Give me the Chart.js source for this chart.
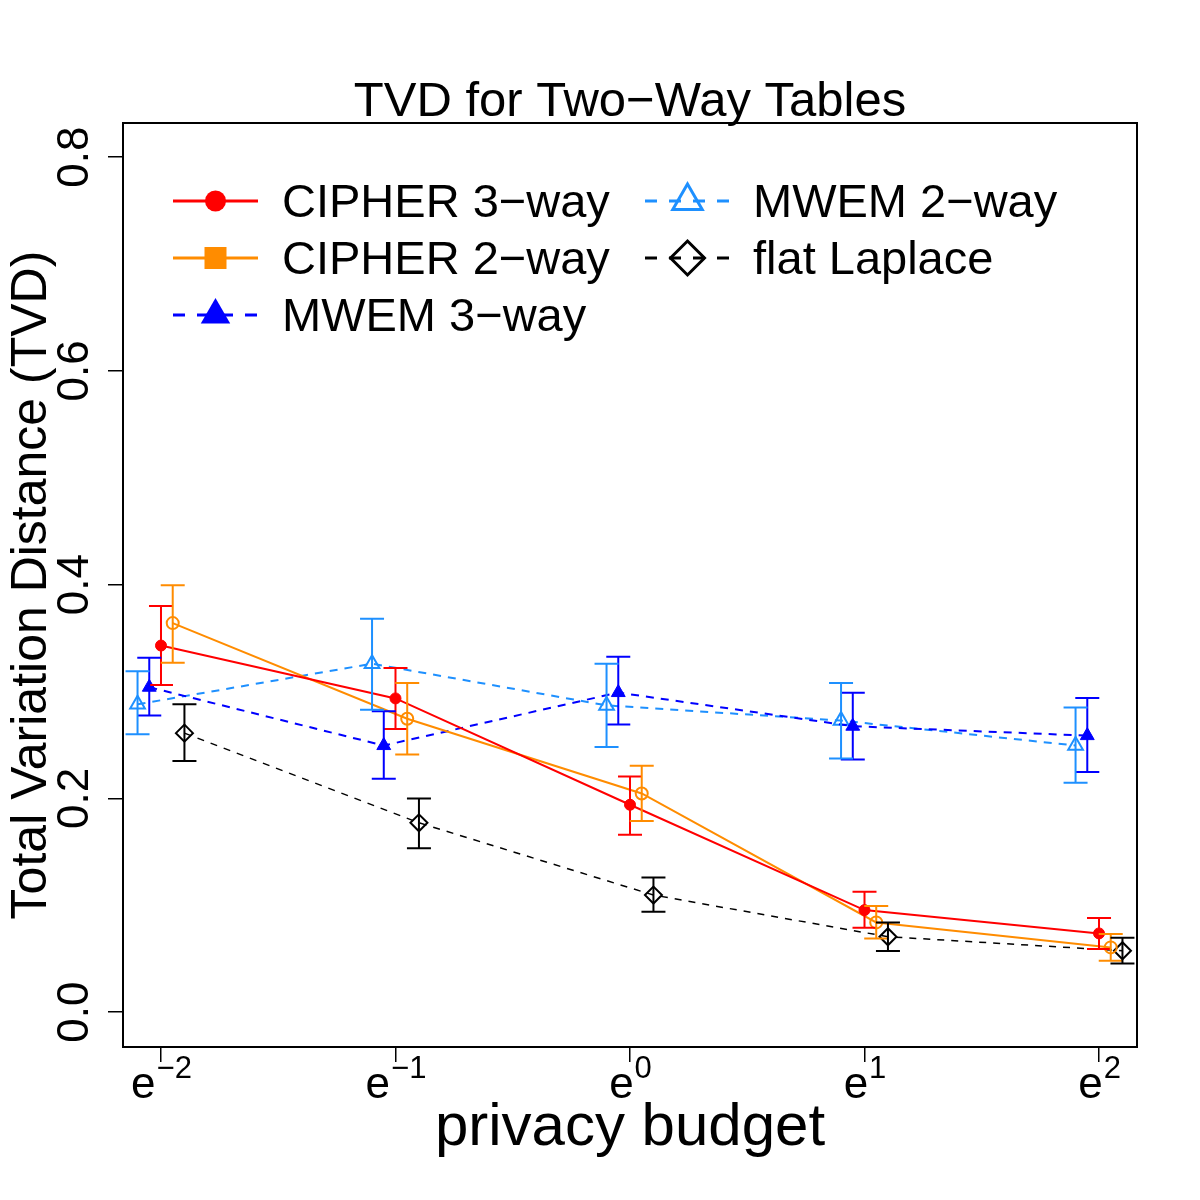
<!DOCTYPE html>
<html>
<head>
<meta charset="utf-8">
<script src="https://cdn.jsdelivr.net/npm/chart.js@4.4.1/dist/chart.umd.min.js"></script>
<style>
  html, body { margin: 0; padding: 0; background: #fff; }
  #wrap { width: 1200px; height: 1200px; }
</style>
</head>
<body>
<div id="wrap"><canvas id="chart" width="1200" height="1200"></canvas></div>
<script>
// privacy budget on a log scale: e^-2 .. e^2
const budgetLog = [-2, -1, 0, 1, 2];
const xTickExps = ['\u22122', '\u22121', '0', '1', '2'];
const yTicks = [0, 0.2, 0.4, 0.6, 0.8];
const yTickLabels = ['0.0', '0.2', '0.4', '0.6', '0.8'];

const seriesNames = ['CIPHER 3\u2212way', 'CIPHER 2\u2212way', 'MWEM 3\u2212way', 'MWEM 2\u2212way', 'flat Laplace'];
const seriesColors = ['#FF0000', '#FF8C00', '#0000FF', '#1E90FF', '#000000'];
// small horizontal dodge so the error bars don't overlap (log units)
const seriesShift = [0, 0.05, -0.05, -0.1, 0.1];

// mean TVD and error bar ends
const cipher3Mean = [0.343, 0.2935, 0.194, 0.0954, 0.0736];
const cipher3Low  = [0.306, 0.265, 0.166, 0.079, 0.059];
const cipher3High = [0.380, 0.322, 0.2205, 0.1126, 0.088];

const cipher2Mean = [0.364, 0.2745, 0.2046, 0.0839, 0.0605];
const cipher2Low  = [0.327, 0.241, 0.1787, 0.0689, 0.048];
const cipher2High = [0.3995, 0.308, 0.2305, 0.0992, 0.073];

const mwem3Mean = [0.304, 0.2494, 0.299, 0.2675, 0.2587];
const mwem3Low  = [0.2776, 0.2183, 0.269, 0.2364, 0.2246];
const mwem3High = [0.3315, 0.2816, 0.3325, 0.2988, 0.294];

const mwem2Mean = [0.288, 0.326, 0.287, 0.2728, 0.2494];
const mwem2Low  = [0.260, 0.283, 0.248, 0.2374, 0.2146];
const mwem2High = [0.319, 0.368, 0.326, 0.308, 0.285];

const flatMean = [0.261, 0.1771, 0.1095, 0.0705, 0.0574];
const flatLow  = [0.235, 0.1534, 0.0939, 0.0571, 0.0455];
const flatHigh = [0.288, 0.1999, 0.126, 0.0839, 0.0696];

const seriesMean = [cipher3Mean, cipher2Mean, mwem3Mean, mwem2Mean, flatMean];
const seriesLow = [cipher3Low, cipher2Low, mwem3Low, mwem2Low, flatLow];
const seriesHigh = [cipher3High, cipher2High, mwem3High, mwem2High, flatHigh];

const FONT = '"Liberation Sans", Arial, Helvetica, sans-serif';

function toPoints(s) {
    return seriesMean[s].map((v, i) => ({ x: budgetLog[i] + seriesShift[s], y: v }));
}

const datasets = [
    {
        label: seriesNames[0], data: toPoints(0),
        borderColor: seriesColors[0], backgroundColor: seriesColors[0],
        borderWidth: 2, pointStyle: 'circle', pointRadius: 5.5, pointBorderWidth: 1
    },
    {
        label: seriesNames[1], data: toPoints(1),
        borderColor: seriesColors[1], backgroundColor: 'rgba(0,0,0,0)',
        borderWidth: 2, pointStyle: 'circle', pointRadius: 6, pointBorderWidth: 2
    },
    {
        label: seriesNames[2], data: toPoints(2),
        borderColor: seriesColors[2], backgroundColor: seriesColors[2],
        borderWidth: 2, borderDash: [8, 7], pointStyle: 'triangle', pointRadius: 8, pointBorderWidth: 1
    },
    {
        label: seriesNames[3], data: toPoints(3),
        borderColor: seriesColors[3], backgroundColor: 'rgba(0,0,0,0)',
        borderWidth: 2, borderDash: [8, 7], pointStyle: 'triangle', pointRadius: 8.5, pointBorderWidth: 2
    },
    {
        label: seriesNames[4], data: toPoints(4),
        borderColor: seriesColors[4], backgroundColor: 'rgba(0,0,0,0)',
        borderWidth: 1.5, borderDash: [7, 7], pointStyle: 'rectRot', pointRadius: 8.5, pointBorderWidth: 2
    }
];

function drawLegendSymbol(ctx, s, cx, cy) {
    const col = seriesColors[s];
    ctx.save();
    ctx.strokeStyle = col;
    ctx.fillStyle = col;
    ctx.lineWidth = 3;
    ctx.beginPath();
    if (s === 0) {
        ctx.arc(cx, cy, 10.5, 0, Math.PI * 2);
        ctx.fill();
    } else if (s === 1) {
        ctx.fillRect(cx - 11, cy - 11, 22, 22);
    } else if (s === 2 || s === 3) {
        const r = 17;
        ctx.moveTo(cx, cy - r);
        ctx.lineTo(cx + r * Math.sqrt(3) / 2, cy + r / 2);
        ctx.lineTo(cx - r * Math.sqrt(3) / 2, cy + r / 2);
        ctx.closePath();
        if (s === 2) ctx.fill(); else ctx.stroke();
    } else {
        const r = 17;
        ctx.moveTo(cx, cy - r);
        ctx.lineTo(cx + r, cy);
        ctx.lineTo(cx, cy + r);
        ctx.lineTo(cx - r, cy);
        ctx.closePath();
        ctx.stroke();
    }
    ctx.restore();
}

const decorPlugin = {
    id: 'decor',
    afterDatasetsDraw(chart) {
        const { ctx } = chart;
        const xs = chart.scales.x, ys = chart.scales.y;
        ctx.save();
        ctx.lineWidth = 2;
        seriesLow.forEach((lows, s) => {
            ctx.strokeStyle = seriesColors[s];
            lows.forEach((lo, i) => {
                const px = xs.getPixelForValue(budgetLog[i] + seriesShift[s]);
                const p1 = ys.getPixelForValue(lo);
                const p2 = ys.getPixelForValue(seriesHigh[s][i]);
                ctx.beginPath();
                ctx.moveTo(px, p1); ctx.lineTo(px, p2);
                ctx.moveTo(px - 12, p1); ctx.lineTo(px + 12, p1);
                ctx.moveTo(px - 12, p2); ctx.lineTo(px + 12, p2);
                ctx.stroke();
            });
        });
        ctx.restore();
    },
    afterDraw(chart) {
        const { ctx, chartArea: area } = chart;
        const xs = chart.scales.x, ys = chart.scales.y;
        ctx.save();

        // box around the plot
        ctx.strokeStyle = '#000';
        ctx.lineWidth = 2;
        ctx.strokeRect(area.left, area.top, area.right - area.left, area.bottom - area.top);

        ctx.fillStyle = '#000';

        // y tick labels, rotated like R
        ctx.font = '44px ' + FONT;
        ctx.textAlign = 'center';
        ctx.textBaseline = 'alphabetic';
        yTicks.forEach((v, i) => {
            const py = ys.getPixelForValue(v);
            ctx.save();
            ctx.translate(88, py);
            ctx.rotate(-Math.PI / 2);
            ctx.fillText(yTickLabels[i], 0, 0);
            ctx.restore();
        });

        // x tick labels e^k
        budgetLog.forEach((v, i) => {
            const px = xs.getPixelForValue(v);
            ctx.font = '44px ' + FONT;
            const wBase = ctx.measureText('e').width;
            ctx.font = '31px ' + FONT;
            const wExp = ctx.measureText(xTickExps[i]).width;
            const x0 = px - (wBase + wExp) / 2;
            ctx.textAlign = 'left';
            ctx.font = '44px ' + FONT;
            ctx.fillText('e', x0, 1098);
            ctx.font = '31px ' + FONT;
            ctx.fillText(xTickExps[i], x0 + wBase + 1, 1078);
        });

        // axis titles and main title
        ctx.textAlign = 'center';
        ctx.font = '60px ' + FONT;
        ctx.fillText('privacy budget', (area.left + area.right) / 2, 1145);

        ctx.font = '49px ' + FONT;
        ctx.fillText('TVD for Two\u2212Way Tables', (area.left + area.right) / 2, 116);

        ctx.save();
        ctx.font = '50px ' + FONT;
        ctx.translate(46, (area.top + area.bottom) / 2);
        ctx.rotate(-Math.PI / 2);
        ctx.fillText('Total Variation Distance (TVD)', 0, 0);
        ctx.restore();

        // legend, two columns filled column-wise
        const cols = [{ x0: 173, x1: 258, text: 282 }, { x0: 645, x1: 730, text: 753 }];
        const rowBase = [217, 274, 331];
        seriesNames.forEach((name, s) => {
            const c = cols[s < 3 ? 0 : 1];
            const base = rowBase[s < 3 ? s : s - 3];
            const cy = base - 16;
            ctx.save();
            ctx.strokeStyle = seriesColors[s];
            ctx.lineWidth = 3;
            if (s >= 2) ctx.setLineDash([12, 12]);
            ctx.beginPath();
            ctx.moveTo(c.x0, cy);
            ctx.lineTo(c.x1, cy);
            ctx.stroke();
            ctx.restore();
            drawLegendSymbol(ctx, s, (c.x0 + c.x1) / 2, cy);
            ctx.fillStyle = '#000';
            ctx.textAlign = 'left';
            ctx.font = '47px ' + FONT;
            ctx.fillText(name, c.text, base);
        });

        ctx.restore();
    }
};

new Chart(document.getElementById('chart'), {
    type: 'scatter',
    data: { datasets: datasets.map(d => Object.assign({ showLine: true, fill: false, tension: 0 }, d)) },
    options: {
        responsive: false,
        animation: false,
        devicePixelRatio: 1,
        layout: { padding: { left: 108, top: 123, right: 63, bottom: 138 } },
        plugins: { legend: { display: false }, tooltip: { enabled: false }, title: { display: false } },
        scales: {
            x: {
                type: 'linear', min: -2.162, max: 2.162,
                afterBuildTicks: s => { s.ticks = budgetLog.map(v => ({ value: v })); },
                grid: { display: true, drawOnChartArea: false, drawTicks: true, tickLength: 15, color: '#000', lineWidth: 1.5 },
                border: { display: false },
                ticks: { display: false }
            },
            y: {
                type: 'linear', min: -0.0327, max: 0.832,
                afterBuildTicks: s => { s.ticks = yTicks.map(v => ({ value: v })); },
                grid: { display: true, drawOnChartArea: false, drawTicks: true, tickLength: 15, color: '#000', lineWidth: 1.5 },
                border: { display: false },
                ticks: { display: false }
            }
        }
    },
    plugins: [decorPlugin]
});
</script>
</body>
</html>
